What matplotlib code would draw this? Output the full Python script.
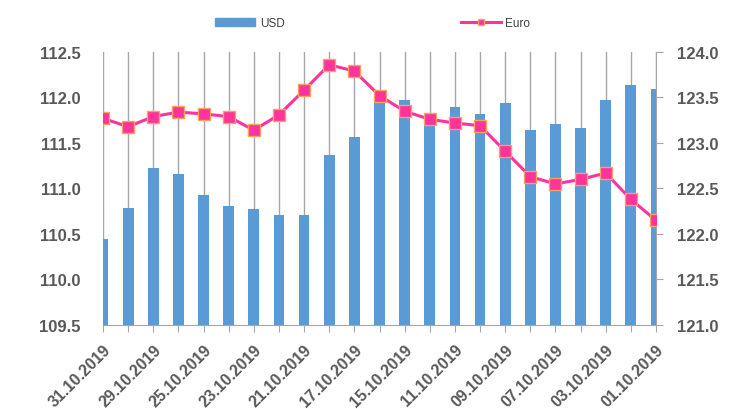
import numpy as np
import matplotlib.pyplot as plt
from matplotlib.lines import Line2D
from matplotlib.patches import Patch

plt.rcParams["font.family"] = ["Liberation Sans", "DejaVu Sans"]

# dates (newest first, as on the chart)
dates = ["31.10.2019", "30.10.2019", "29.10.2019", "28.10.2019", "25.10.2019",
         "24.10.2019", "23.10.2019", "22.10.2019", "21.10.2019", "18.10.2019",
         "17.10.2019", "16.10.2019", "15.10.2019", "14.10.2019", "11.10.2019",
         "10.10.2019", "09.10.2019", "08.10.2019", "07.10.2019", "04.10.2019",
         "03.10.2019", "02.10.2019", "01.10.2019"]
usd = [110.44, 110.79, 111.23, 111.16, 110.93, 110.81, 110.78, 110.71, 110.71,
       111.37, 111.57, 112.00, 111.97, 111.80, 111.90, 111.82, 111.94, 111.64,
       111.71, 111.66, 111.97, 112.14, 112.09]
euro = [123.27, 123.18, 123.29, 123.34, 123.32, 123.29, 123.14, 123.31, 123.58,
        123.86, 123.79, 123.52, 123.35, 123.26, 123.22, 123.19, 122.91, 122.63,
        122.55, 122.60, 122.67, 122.38, 122.15]

blue = "#5B9BD5"
pink = "#FF3399"
edge = "#F4A460"
grey_txt = "#595959"
grid_col = "#A6A6A6"

x = np.arange(len(dates))

fig = plt.figure(figsize=(7.33, 4.10), dpi=100)
ax = fig.add_axes([103 / 733, 1 - 326 / 410, 553 / 733, 273 / 410])
ax2 = ax.twinx()

ax.bar(x, usd, width=0.43, color=blue, zorder=2)
ax.set_ylim(109.5, 112.5)
ax.set_yticks(np.arange(109.5, 112.51, 0.5))
ax.set_yticklabels([f"{v:.1f}" for v in np.arange(109.5, 112.51, 0.5)])
ax.set_xlim(0, len(dates) - 1)
ax.set_xticks(x)
ax.set_xticklabels([d if i % 2 == 0 else "" for i, d in enumerate(dates)],
                   rotation=45, ha="right", rotation_mode="anchor")
ax.grid(axis="x", color=grid_col, linewidth=1.0, zorder=0)
ax.set_axisbelow(True)

ax2.plot(x, euro, color=pink, linewidth=2.2, marker="s", markersize=8.5,
         markerfacecolor=pink, markeredgecolor=edge, markeredgewidth=1.0,
         zorder=5)
ax2.set_ylim(121.0, 124.0)
ax2.set_yticks(np.arange(121.0, 124.01, 0.5))
ax2.set_yticklabels([f"{v:.1f}" for v in np.arange(121.0, 124.01, 0.5)])

for a in (ax, ax2):
    for s in ("top", "left"):
        a.spines[s].set_visible(False)
    a.spines["bottom"].set_color(grid_col)
    a.spines["right"].set_color(grid_col)
ax2.spines["bottom"].set_visible(False)
ax.spines["right"].set_visible(False)

ax.tick_params(axis="y", length=0, pad=16, labelsize=12, labelcolor=grey_txt)
ax.tick_params(axis="x", length=5, color=grid_col, pad=7, labelsize=11.5,
               labelcolor=grey_txt)
ax2.tick_params(axis="y", length=5, color=grid_col, pad=10, labelsize=12,
                labelcolor=grey_txt)
for lab in ax.get_yticklabels() + ax2.get_yticklabels() + ax.get_xticklabels():
    lab.set_fontweight("bold")

handles = [Patch(color=blue, label="USD"),
           Line2D([], [], color=pink, linewidth=2.2, marker="s", markersize=5,
                  markerfacecolor=pink, markeredgecolor=edge, label="Euro")]
leg = fig.legend(handles=handles, loc="center left",
                 bbox_to_anchor=(215 / 733, 1 - 24 / 410),
                 ncol=2, frameon=False, fontsize=8.5, columnspacing=14.9,
                 handlelength=3.4, handleheight=0.7, handletextpad=0.4,
                 borderpad=0, borderaxespad=0)
for t in leg.get_texts():
    t.set_color("#404040")

fig.savefig("out.png", dpi=100)
